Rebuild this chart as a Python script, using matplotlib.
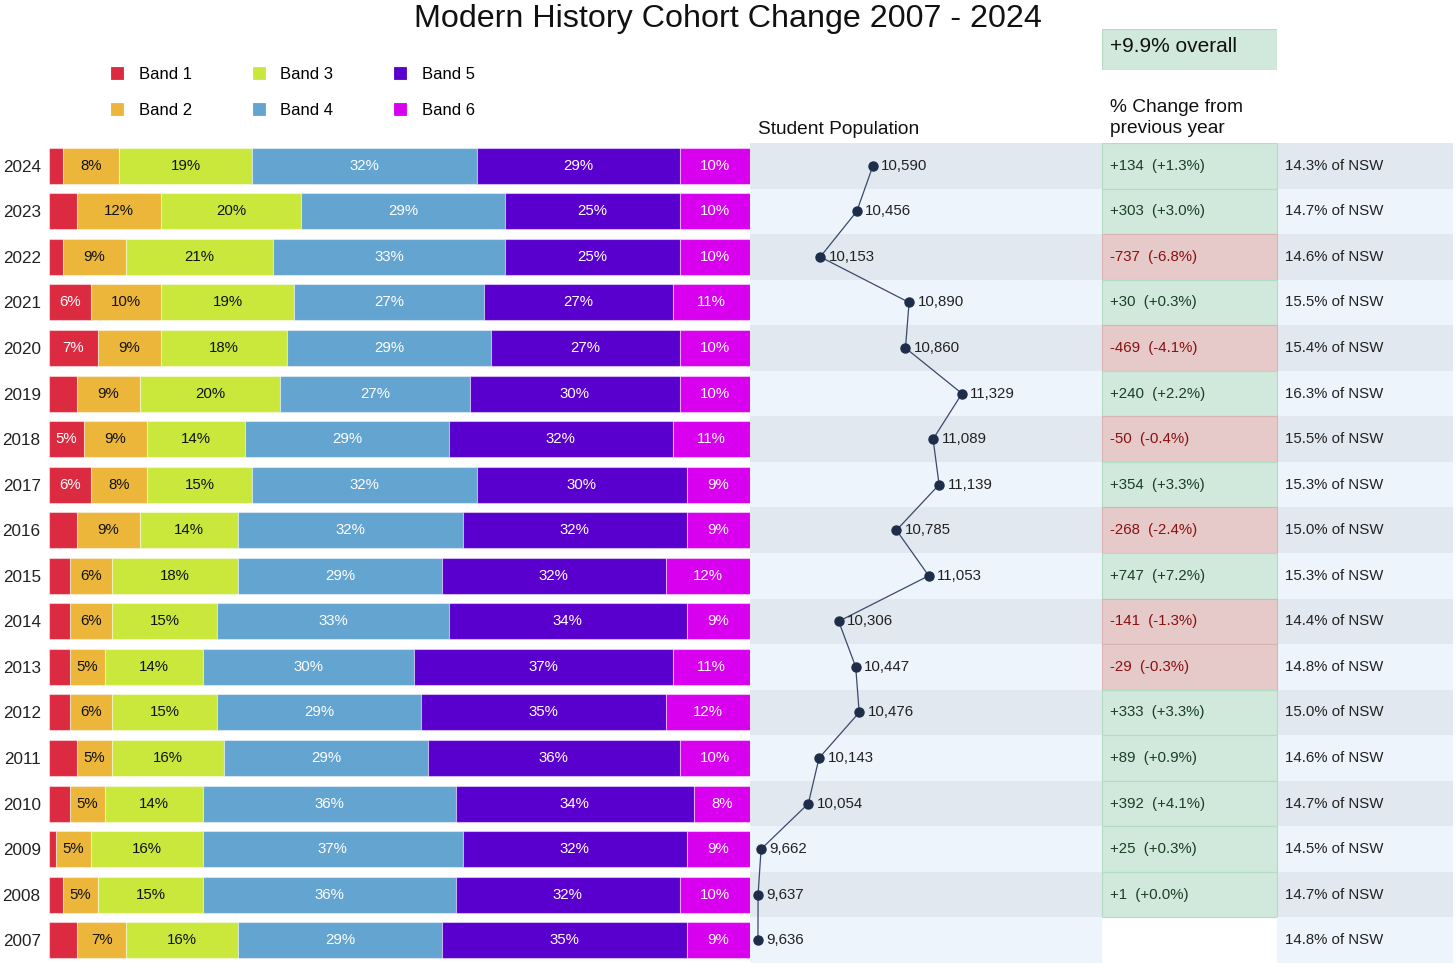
import matplotlib.pyplot as plt
from matplotlib.patches import Rectangle
from matplotlib.lines import Line2D

plt.rcParams['font.family'] = ['Liberation Sans', 'DejaVu Sans']

# data (top row = 2024)
years = [2024, 2023, 2022, 2021, 2020, 2019, 2018, 2017, 2016, 2015,
         2014, 2013, 2012, 2011, 2010, 2009, 2008, 2007]
band1 = [2, 4, 2, 6, 7, 4, 5, 6, 4, 3, 3, 3, 3, 4, 3, 1, 2, 4]
band2 = [8, 12, 9, 10, 9, 9, 9, 8, 9, 6, 6, 5, 6, 5, 5, 5, 5, 7]
band3 = [19, 20, 21, 19, 18, 20, 14, 15, 14, 18, 15, 14, 15, 16, 14, 16, 15, 16]
band4 = [32, 29, 33, 27, 29, 27, 29, 32, 32, 29, 33, 30, 29, 29, 36, 37, 36, 29]
band5 = [29, 25, 25, 27, 27, 30, 32, 30, 32, 32, 34, 37, 35, 36, 34, 32, 32, 35]
band6 = [10, 10, 10, 11, 10, 10, 11, 9, 9, 12, 9, 11, 12, 10, 8, 9, 10, 9]
population = [10590, 10456, 10153, 10890, 10860, 11329, 11089, 11139, 10785,
              11053, 10306, 10447, 10476, 10143, 10054, 9662, 9637, 9636]
nsw_share = [14.3, 14.7, 14.6, 15.5, 15.4, 16.3, 15.5, 15.3, 15.0, 15.3,
             14.4, 14.8, 15.0, 14.6, 14.7, 14.5, 14.7, 14.8]

bands = [band1, band2, band3, band4, band5, band6]
band_names = ['Band 1', 'Band 2', 'Band 3', 'Band 4', 'Band 5', 'Band 6']
band_colors = ['#DC2A40', '#EBB63A', '#CAE83C', '#64A4D0', '#5A00CE', '#D800EE']
label_colors = ['white', '#111111', '#111111', 'white', 'white', 'white']

W, H = 1456, 967
n = len(years)
ypos = [n - 1 - i for i in range(n)]  # 2024 at top

stripe_dark = '#E2E8F0'
stripe_light = '#EEF4FC'
green_fill, green_edge, green_txt = '#D1E8DC', '#B4DBC4', '#1B3F27'
red_fill, red_edge, red_txt = '#E6CACA', '#D8B3B3', '#8A1010'


def fax(x0, y0, x1, y1):
    # pixel box -> figure axes
    return fig.add_axes([x0 / W, 1 - y1 / H, (x1 - x0) / W, (y1 - y0) / H])


fig = plt.figure(figsize=(W / 100, H / 100), dpi=100)

# stripes / table area
tab = fax(750, 143, 1453, 963)
tab.set_xlim(750, 1453)
tab.set_ylim(-0.5, n - 0.5)
tab.axis('off')
for i, y in enumerate(ypos):
    c = stripe_dark if i % 2 == 0 else stripe_light
    tab.add_patch(Rectangle((750, y - 0.5), 352, 1, color=c, lw=0))
    tab.add_patch(Rectangle((1277, y - 0.5), 176, 1, color=c, lw=0))
    tab.text(1285, y, f'{nsw_share[i]:.1f}% of NSW', va='center', ha='left',
             fontsize=10.8, color='#222222')
    if i < n - 1:
        d = population[i] - population[i + 1]
        pct = d / population[i + 1] * 100
        pos = d >= 0
        tab.add_patch(Rectangle((1102, y - 0.5), 175, 1,
                                facecolor=green_fill if pos else red_fill,
                                edgecolor=green_edge if pos else red_edge, lw=0.8))
        tab.text(1110, y, f'{d:+d}  ({pct:+.1f}%)', va='center', ha='left',
                 fontsize=10.8, color=green_txt if pos else red_txt)

# population line
pop = fax(750, 143, 1100, 963)
pop.set_xlim(9570, 12474)
pop.set_ylim(-0.5, n - 0.5)
pop.patch.set_alpha(0)
pop.axis('off')
pop.plot(population, ypos, color='#3A4A6A', lw=0.9, marker='o', ms=6.5,
         mfc='#1E2D4A', mec='#1E2D4A', zorder=3)
for p, y in zip(population, ypos):
    pop.annotate(f'{p:,}', (p, y), xytext=(6, 0), textcoords='offset points',
                 va='center', ha='left', fontsize=10.8, color='#222222')

# stacked bars
ax = fax(49, 143, 750, 963)
left = [0] * n
for b, vals in enumerate(bands):
    ax.barh(ypos, vals, left=left, height=0.79, color=band_colors[b],
            edgecolor=(1, 1, 1, 0.45), lw=0.8)
    for y, v, l in zip(ypos, vals, left):
        if v >= 5:
            ax.text(l + v / 2, y, f'{v}%', ha='center', va='center',
                    fontsize=10.8, color=label_colors[b])
    left = [l + v for l, v in zip(left, vals)]
ax.set_xlim(0, 100)
ax.set_ylim(-0.5, n - 0.5)
ax.set_yticks(ypos)
ax.set_yticklabels([str(y) for y in years], fontsize=12.3, color='#222222')
ax.tick_params(axis='y', length=0, pad=6)
ax.set_xticks([])
for s in ax.spines.values():
    s.set_visible(False)

# legend
handles = [Line2D([], [], ls='none', marker='s', ms=8.5, mfc=c,
                  mec=c, mew=0.6) for c in band_colors]
fig.legend(handles, band_names, ncol=3, frameon=False, fontsize=12,
           loc='upper left', bbox_to_anchor=(104 / W, 1 - 60 / H),
           handlelength=0.8, handletextpad=0.9, columnspacing=3.6,
           labelspacing=1.3, borderaxespad=0)

# titles and headers
fig.text(0.5, 1 - 19 / H, 'Modern History Cohort Change 2007 - 2024',
         ha='center', va='center', fontsize=23.2, color='#111111')
fig.text(758 / W, 1 - 129 / H, 'Student Population', ha='left', va='center',
         fontsize=13.8, color='#111111')
fig.text(1110 / W, 1 - 118 / H, '% Change from\nprevious year', ha='left',
         va='center', fontsize=13.8, color='#111111', linespacing=1.25)

box = fax(1102, 29, 1277, 70)
box.set_xlim(0, 1)
box.set_ylim(0, 1)
box.axis('off')
box.add_patch(Rectangle((0, 0), 1, 1, facecolor=green_fill, edgecolor=green_edge, lw=0.8))
total = (population[0] / population[-1] - 1) * 100
box.text(8 / 175, 0.58, f'{total:+.1f}% overall', ha='left', va='center',
         fontsize=15, color='#111111')

fig.savefig('out.png', dpi=100)
